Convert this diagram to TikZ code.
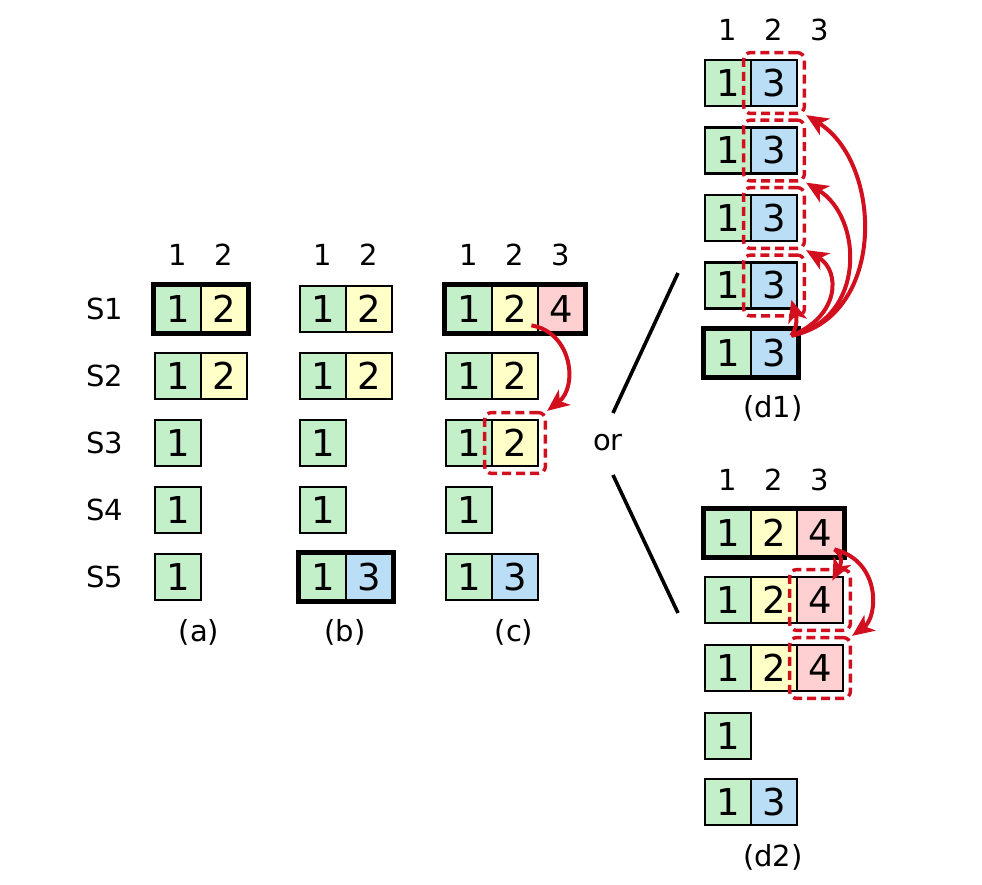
\documentclass[tikz,border=0pt]{standalone}
\usepackage{fontspec}
\setmainfont{DejaVu Sans}
\usepackage{tikz}
\usetikzlibrary{arrows.meta,fit}

\definecolor{t1}{RGB}{195,240,200}
\definecolor{t2}{RGB}{255,255,200}
\definecolor{t3}{RGB}{185,222,245}
\definecolor{t4}{RGB}{255,208,210}
\definecolor{hl}{RGB}{210,15,30}

% one log: #1 name, #2 left edge, #3 row centre, #4 terms
\newcommand{\logrow}[4]{%
  \foreach \tm [count=\i] in {#4}
    \node[cell=t\tm] (#1-\i) at (#2+46*\i-23,#3) {\tm};
}

\begin{document}
\begin{tikzpicture}[
  x=1pt, y=-1pt,
  font=\fontsize{29}{32}\selectfont,
  cell/.style={draw=black, fill=#1, line width=2.8pt, minimum size=46pt, inner sep=0pt,
               font=\fontsize{37}{40}\selectfont},
  leader/.style={draw=black, line width=5.5pt},
  sel/.style={draw=hl, line width=3.4pt, dash pattern=on 9pt off 5pt, rounded corners=7pt, inner sep=6pt},
  upd/.style={draw=hl, line width=4pt, -{Stealth[length=22pt,width=19pt,inset=6pt]}},
  split/.style={draw=black, line width=3.6pt},
  hdr/.style={anchor=center},
  lbl/.style={anchor=center},
]
\useasboundingbox (0,0) rectangle (982,885);

% ---- row names ----
\foreach \r in {1,...,5}
  \node[lbl] (s\r) at (105,309+67*\r-67) {S\r};

% ---- (a) ----
\foreach \i in {1,2} \node[hdr] (ha\i) at (132+46*\i,255) {\i};
\logrow{a1}{155}{309}{1,2}
\logrow{a2}{155}{376}{1,2}
\logrow{a3}{155}{443}{1}
\logrow{a4}{155}{510}{1}
\logrow{a5}{155}{577}{1}
\draw[leader] (a1-1.north west) rectangle (a1-2.south east);
\node[lbl] (la) at (199,632) {(a)};

% ---- (b) ----
\foreach \i in {1,2} \node[hdr] (hb\i) at (277+46*\i,255) {\i};
\logrow{b1}{300}{309}{1,2}
\logrow{b2}{300}{376}{1,2}
\logrow{b3}{300}{443}{1}
\logrow{b4}{300}{510}{1}
\logrow{b5}{300}{577}{1,3}
\draw[leader] (b5-1.north west) rectangle (b5-2.south east);
\node[lbl] (lb) at (345,632) {(b)};

% ---- (c) ----
\foreach \i in {1,2,3} \node[hdr] (hc\i) at (423+46*\i,255) {\i};
\logrow{c1}{446}{309}{1,2,4}
\logrow{c2}{446}{376}{1,2}
\logrow{c3}{446}{443}{1,2}
\logrow{c4}{446}{510}{1}
\logrow{c5}{446}{577}{1,3}
\draw[leader] (c1-1.north west) rectangle (c1-3.south east);
\node[sel, fit=(c3-2)] (selc) {};
\node[lbl] (lc) at (514,632) {(c)};
\draw[upd] ([shift={(-8,-8)}]c1-2.south east) .. controls +(41,7) and +(31,-24) .. (selc.north east);

% ---- or ----
\node[lbl] (or) at (608,443) {or};
\coordinate (up1) at (678,273);
\coordinate (up2) at (613,413);
\coordinate (dn1) at (613,475);
\coordinate (dn2) at (678,613);
\draw[split] (up1) -- (up2);
\draw[split] (dn1) -- (dn2);

% ---- (d1) ----
\foreach \i in {1,2,3} \node[hdr] (hd\i) at (682+46*\i,30) {\i};
\logrow{d1}{705}{83}{1,3}
\logrow{d2}{705}{150.5}{1,3}
\logrow{d3}{705}{218}{1,3}
\logrow{d4}{705}{285.5}{1,3}
\logrow{d5}{705}{353}{1,3}
\draw[leader] (d5-1.north west) rectangle (d5-2.south east);
\foreach \r in {1,...,4} \node[sel, fit=(d\r-2)] (seld\r) {};
\node[lbl] (ld1) at (773,408) {(d1)};
\coordinate (dsrc) at ([shift={(-7,7)}]d5-2.north east);
\draw[upd] (dsrc) .. controls +(8,-12) and +(4,14) .. ([shift={(-7,-10)}]d4-2.south east);
\draw[upd] (dsrc) .. controls +(48,-19) and +(35,21) .. (seld3.south east);
\draw[upd] (dsrc) .. controls +(75,-17) and +(57,35) .. (seld2.south east);
\draw[upd] (dsrc) .. controls +(95,-19) and +(77,48) .. (seld1.south east);

% ---- (d2) ----
\foreach \i in {1,2,3} \node[hdr] (he\i) at (682+46*\i,480) {\i};
\logrow{e1}{705}{533}{1,2,4}
\logrow{e2}{705}{600}{1,2,4}
\logrow{e3}{705}{668}{1,2,4}
\logrow{e4}{705}{736}{1}
\logrow{e5}{705}{802}{1,3}
\draw[leader] (e1-1.north west) rectangle (e1-3.south east);
\node[sel, fit=(e2-3)] (sele2) {};
\node[sel, fit=(e3-3)] (sele3) {};
\node[lbl] (ld2) at (773,857) {(d2)};
\coordinate (esrc) at ([shift={(-10,-8)}]e1-3.south east);
\draw[upd] (esrc) .. controls +(12,8) and +(6,-12) .. ([shift={(-12,5)}]e2-3.north east);
\draw[upd] (esrc) .. controls +(47,12) and +(26,-19) .. (sele3.north east);
\end{tikzpicture}
\end{document}
